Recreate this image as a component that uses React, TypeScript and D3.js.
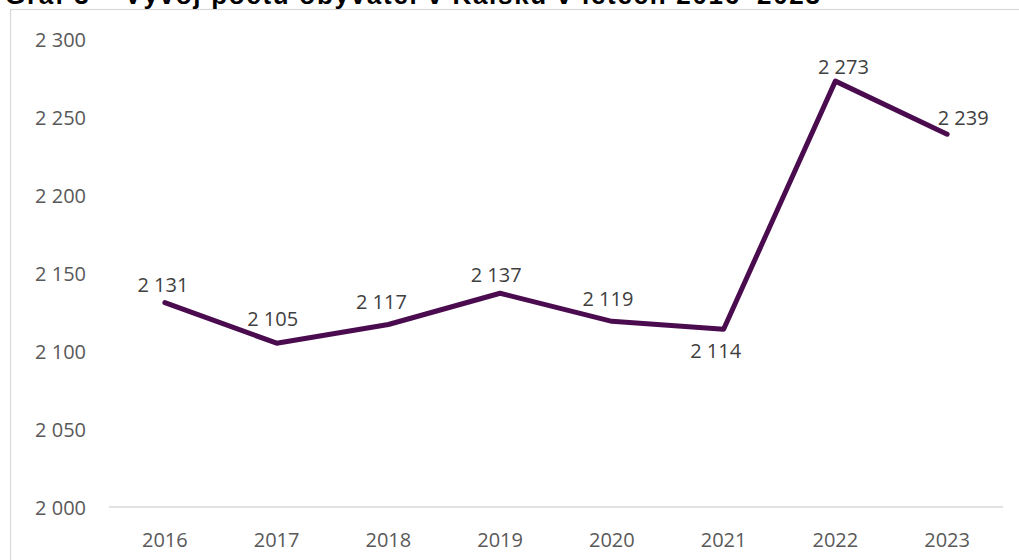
import * as d3 from 'd3';

const years = ['2016', '2017', '2018', '2019', '2020', '2021', '2022', '2023'];
const population = [2131, 2105, 2117, 2137, 2119, 2114, 2273, 2239];
const yTicks = [2000, 2050, 2100, 2150, 2200, 2250, 2300];

// label nudges (dx, dy of label centre from the point), like Excel's manual placement
const labelShift: [number, number][] = [
    [-2, -18], [-4, -25], [-7, -23], [-4, -19], [-4, -23], [-8, 21], [8, -15], [16, -17],
];

const W = 1019;
const H = 560;
const left = 109, right = 1003, top = 39, bottom = 507;

const fmt = (v: number) => d3.format(',')(v).replace(/,/g, ' ');

const App = () => {
    const x = d3.scalePoint<string>().domain(years).range([left, right]).padding(0.5);
    const y = d3.scaleLinear().domain([2000, 2300]).range([bottom, top]);

    const line = d3.line<number>()
        .x((_, i) => x(years[i]) ?? 0)
        .y(d => y(d));

    const font = "'Open Sans', sans-serif";

    return (
        <svg width={W} height={H} style={{position: 'absolute', left: 0, top: 0, background: '#fff'}} fontFamily={font}>
            <rect x={10.5} y={9.5} width={W} height={H} fill="#fff" stroke="#d9d9d9" strokeWidth={1.2} />
            {/* title is cut off by the top edge in the original too */}
            <text x={5} y={4} fontFamily="'Liberation Sans', Arial, sans-serif" fontWeight="bold" fontSize={26}
                  fill="#000" textLength={815} lengthAdjust="spacing">
                Graf 3 – Vývoj počtu obyvatel v Kalsku v letech 2016–2023
            </text>

            <line x1={left} x2={right} y1={y(2000)} y2={y(2000)} stroke="#d9d9d9" strokeWidth={1.5} />

            {yTicks.map(t => (
                <text key={t} x={86} y={y(t)} textAnchor="end" dominantBaseline="central" fontSize={20} fill="#595959">
                    {fmt(t)}
                </text>
            ))}

            {years.map(yr => (
                <text key={yr} x={x(yr)} y={539} textAnchor="middle" dominantBaseline="central" fontSize={20} fill="#595959">
                    {yr}
                </text>
            ))}

            <path d={line(population) ?? ''} fill="none" stroke="#4b0c4f" strokeWidth={5} strokeLinejoin="round" strokeLinecap="round" />

            {population.map((v, i) => (
                <text key={i} x={(x(years[i]) ?? 0) + labelShift[i][0]} y={y(v) + labelShift[i][1]}
                      textAnchor="middle" dominantBaseline="central" fontSize={20} fill="#404040">
                    {fmt(v)}
                </text>
            ))}
        </svg>
    );
};

export default App;
